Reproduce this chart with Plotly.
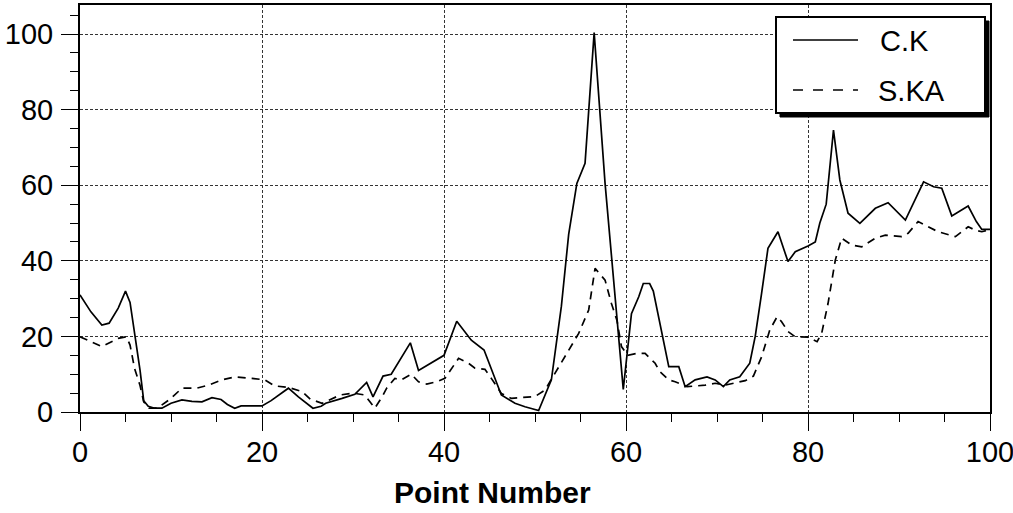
import plotly.graph_objects as go

# ---- data ----
ck_x = [0, 1.2, 2.4, 3.2, 4.2, 5.0, 5.5, 6.0, 6.6, 7.0, 7.5, 8.2, 9.0, 10.0, 11.2, 12.3, 13.4, 14.5,
        15.5, 16.2, 17.0, 17.7, 19.0, 20.0, 21.0, 22.9, 24.0, 25.0, 25.6, 26.5, 27.0, 28.8, 30.2,
        31.5, 32.2, 33.3, 34.2, 36.3, 37.2, 40.0, 41.4, 43.0, 44.4, 46.3, 47.8, 48.9, 50.4, 51.8,
        52.9, 53.7, 54.6, 55.5, 56.5, 57.7, 59.7, 60.6, 61.4, 61.9, 62.6, 63.0, 64.7, 65.8, 66.5,
        67.6, 68.9, 69.8, 70.7, 71.4, 72.5, 73.6, 74.2, 74.9, 75.6, 76.7, 77.8, 78.6, 80.0, 80.8,
        81.3, 82.0, 82.8, 83.5, 84.4, 85.7, 87.4, 88.8, 90.7, 92.7, 93.8, 94.7, 95.8, 97.6, 98.5,
        99.1, 100]
ck_y = [31, 26.5, 23, 23.5, 27.5, 32, 29, 21, 11, 3, 1.5, 1, 1, 2.3, 3.2, 2.8, 2.7, 3.8,
        3.3, 2, 1, 1.6, 1.5, 1.6, 3, 6.3, 4, 2, 1, 1.5, 2.3, 3.6, 4.7,
        7.8, 4, 9.5, 10, 18.3, 11, 15, 24, 19, 16.4, 4.5, 2.3, 1.4, 0.4, 8.5,
        28, 47, 60.5, 65.8, 100.4, 60.5, 6, 26, 30.5, 34, 34, 32, 12, 12, 6.7,
        8.5, 9.3, 8.5, 6.7, 8.5, 9.3, 12.9, 20, 31.4, 43.3, 47.7, 39.8, 42.4, 43.9, 45,
        50, 55, 74.6, 61.4, 52.6, 49.9, 53.9, 55.4, 50.8, 60.9, 59.6, 59.2, 51.9, 54.5, 50.4,
        48.3, 48.3]

ska_x = [0, 2.4, 4.2, 5.1, 5.5, 6.0, 6.6, 7.0, 7.6, 8.5, 10.0, 11.2, 12.8, 14.1, 15.6, 17.0,
         18.9, 20.3, 21.4, 22.9, 24.4, 25.3, 26.6, 27.8, 28.6, 30.0, 31.3, 32.4, 33.2, 33.7,
         34.6, 35.3, 36.4, 37.2, 38.1, 39.2, 40.1, 41.6, 42.7, 43.4, 44.5, 45.2, 46.3, 47.4,
         48.9, 50.0, 51.1, 52.2, 53.7, 54.8, 55.9, 56.6, 57.7, 58.4, 59.0, 59.5, 60.2, 61.2,
         62.1, 63.2, 63.7, 64.7, 65.4, 66.7, 68.7, 69.8, 70.9, 72.0, 73.1, 74.0, 74.9, 75.8,
         76.6, 77.1, 77.8, 78.6, 80.0, 81.0, 81.5, 82.2, 83.0, 83.7, 84.8, 85.9, 87.4, 88.5,
         90.3, 91.0, 92.1, 93.2, 94.3, 96.2, 97.6, 98.4, 99.1, 100]
ska_y = [19.9, 17.3, 19.5, 19.9, 17.7, 11.5, 7, 2.7, 1, 1, 3.6, 6.3, 6.3, 7.1, 8.5, 9.3,
         8.9, 8.5, 6.9, 6.5, 5.4, 3.4, 2.3, 3.6, 4.5, 5, 4.5, 1, 4, 6.3,
         8.9, 8.5, 10, 8, 7.4, 8, 8.9, 14.2, 12.9, 11.6, 11.3, 8.9, 4.9, 3.6,
         3.9, 4.1, 5.8, 10.2, 16.4, 20.8, 27, 38, 34.9, 28.7, 24.3, 17.3, 15, 15.5,
         15.5, 12.9, 10.7, 8.5, 8, 6.7, 7.1, 7.6, 7.1, 7.6, 8.3, 9.5, 14.6, 21.7,
         25.2, 23.9, 21.3, 19.9, 19.8, 18.6, 20.8, 28.7, 40.2, 46, 44.2, 43.7, 46, 46.8,
         46.4, 47.3, 50.4, 49, 47.7, 46.4, 49, 48.1, 47.7, 48.3]

series_names = ["C.K", "S.KA"]
x_ticks = [0, 20, 40, 60, 80, 100]
y_ticks = [0, 20, 40, 60, 80, 100]
x_title = "Point Number"

FONT = "Liberation Sans, Arial, sans-serif"

fig = go.Figure()
fig.add_trace(go.Scatter(x=ck_x, y=ck_y, mode="lines", name=series_names[0],
                         line=dict(color="black", width=1.7), showlegend=False))
fig.add_trace(go.Scatter(x=ska_x, y=ska_y, mode="lines", name=series_names[1],
                         line=dict(color="black", width=1.7, dash="8px,6px"), showlegend=False))

axis_common = dict(
    showline=True, mirror=True, linecolor="black", linewidth=2,
    showgrid=True, gridcolor="#333", gridwidth=1, griddash="3px,2px",
    ticks="outside", ticklen=17, tickcolor="black", tickwidth=1,
    tickfont=dict(family=FONT, size=29, color="black"),
    zeroline=False, automargin=False, ticklabeloverflow="allow",
    minor=dict(dtick=5, ticks="outside", ticklen=8, tickcolor="black", tickwidth=1, showgrid=False),
)

fig.update_xaxes(range=[0, 100], tickvals=x_ticks, ticktext=[str(v) for v in x_ticks],
                 ticklabelstandoff=-4, **axis_common)
fig.update_yaxes(range=[0, 107.7], tickvals=y_ticks, ticktext=[str(v) for v in y_ticks],
                 ticklabelstandoff=2, **axis_common)

# ---- legend drawn as a framed box with shadow (paper coordinates) ----
def px_x(p):
    return (p - 80) / 910.0

def px_y(p):
    return (412 - p) / 407.0

bx0, bx1, by0, by1 = px_x(776), px_x(985), px_y(113), px_y(17)
sx, sy = 4 / 910.0, 4 / 407.0
shapes = [
    dict(type="rect", xref="paper", yref="paper", x0=bx0 + sx, x1=bx1 + sx, y0=by0 - sy, y1=by1 - sy,
         fillcolor="black", line=dict(color="black", width=1), layer="above"),
    dict(type="rect", xref="paper", yref="paper", x0=bx0, x1=bx1, y0=by0, y1=by1,
         fillcolor="white", line=dict(color="black", width=2), layer="above"),
    dict(type="line", xref="paper", yref="paper", x0=px_x(793), x1=px_x(858), y0=px_y(40), y1=px_y(40),
         line=dict(color="black", width=1.7), layer="above"),
    dict(type="line", xref="paper", yref="paper", x0=px_x(793), x1=px_x(858), y0=px_y(90), y1=px_y(90),
         line=dict(color="black", width=1.7, dash="10px,10px"), layer="above"),
]
annotations = [
    dict(xref="paper", yref="paper", x=px_x(878), y=px_y(41), text=series_names[0], showarrow=False,
         xanchor="left", yanchor="middle", font=dict(family=FONT, size=29, color="black")),
    dict(xref="paper", yref="paper", x=px_x(876), y=px_y(91), text=series_names[1], showarrow=False,
         xanchor="left", yanchor="middle", font=dict(family=FONT, size=29, color="black")),
    dict(xref="paper", yref="paper", x=px_x(492), y=px_y(492), text="<b>" + x_title + "</b>",
         showarrow=False, xanchor="center", yanchor="middle",
         font=dict(family=FONT, size=30, color="black")),
]

fig.update_layout(
    width=1013, height=513,
    margin=dict(l=80, r=23, t=5, b=101),
    plot_bgcolor="white", paper_bgcolor="white",
    shapes=shapes, annotations=annotations,
    showlegend=False,
)

fig.write_html("out.html", config={"displayModeBar": False},
               post_script="document.body.style.margin='0';document.body.style.overflow='hidden';")
